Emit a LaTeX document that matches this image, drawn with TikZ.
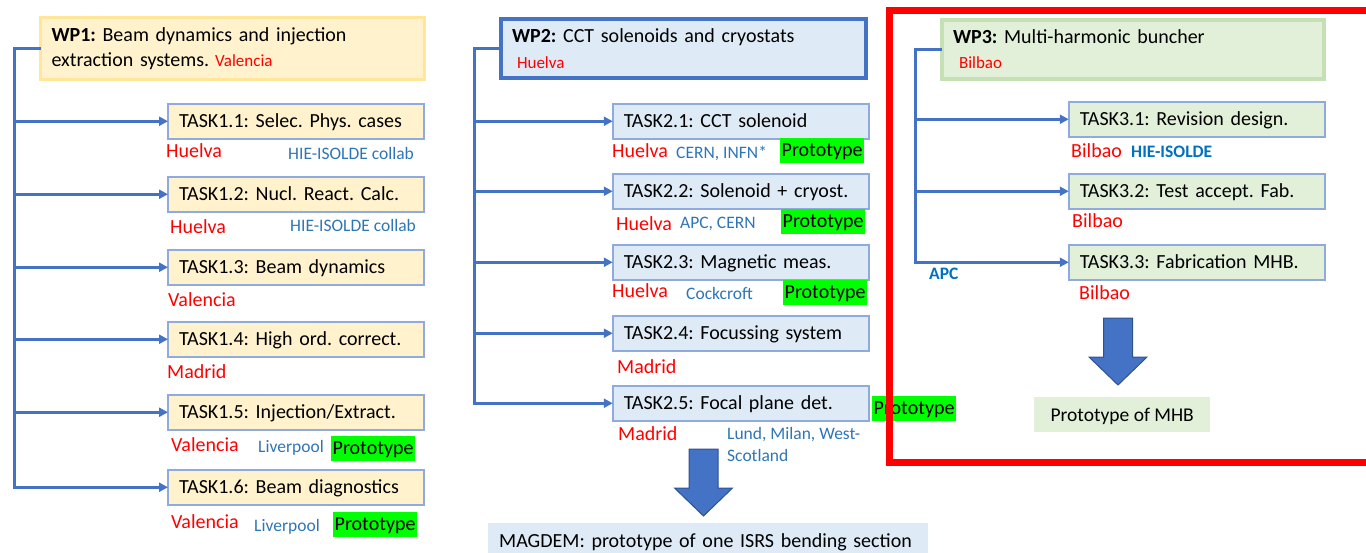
\documentclass[tikz,border=0pt]{standalone}
\usepackage{fontspec}
\setmainfont{Carlito}
\usepackage{xcolor}
\usetikzlibrary{calc,arrows.meta,positioning}
\frenchspacing

% colours of the work packages
\definecolor{wpyellow}{HTML}{FFF2CC}
\definecolor{wpyellowline}{HTML}{FFE699}
\definecolor{wpblue}{HTML}{DEEBF7}
\definecolor{wpgreen}{HTML}{E2F0D9}
\definecolor{wpgreenline}{HTML}{C5E0B4}
\definecolor{accent}{HTML}{4472C4}
\definecolor{arrowline}{HTML}{2F528F}
\definecolor{taskline}{HTML}{8FAADC}
\definecolor{partnerblue}{HTML}{2E75B6}
\definecolor{partnerbold}{HTML}{0070C0}
\definecolor{protogreen}{HTML}{00FF00}

\tikzset{
  bigarrow/.pic={
    \filldraw[fill=accent, draw=arrowline, line width=1pt]
      (-14.5,0) -- (14.5,0) -- (14.5,39) -- (29,39) -- (0,67) -- (-29,39) -- (-14.5,39) -- cycle;
  }
}

\begin{document}
\begin{tikzpicture}[x=1pt, y=-1pt,
    wpbox/.style={draw, anchor=north west, align=left, inner xsep=11pt, outer sep=0pt,
      font=\fontsize{20}{24.5}\selectfont},
    task/.style={draw=taskline, line width=1.5pt, anchor=north west, minimum height=35pt,
      inner xsep=11pt, text width=234pt, align=left, text height=13pt, text depth=0pt,
      outer sep=0pt, font=\fontsize{20}{24}\selectfont},
    site/.style={text=red, anchor=base west, inner sep=0pt, font=\fontsize{20}{24}\selectfont},
    partner/.style={text=partnerblue, anchor=base west, inner sep=0pt, font=\fontsize{17.5}{21}\selectfont},
    partnerb/.style={partner, text=partnerbold, font=\fontsize{17.5}{21}\selectfont\bfseries},
    proto/.style={fill=protogreen, anchor=north west, inner xsep=1.5pt, inner ysep=2.5pt,
      text height=16pt, text depth=4pt, font=\fontsize{20}{24}\selectfont},
    link/.style={draw=accent, line width=3pt},
    feed/.style={link, -{Triangle[length=9pt,width=9pt]}}]

  \useasboundingbox (0,0) rectangle (1366,552);

  % ---------------- WP1 ----------------
  \node[wpbox, draw=wpyellowline, fill=wpyellow, line width=3pt, minimum height=62pt, text width=362pt]
    (wp1) at (40.5,17.5) {\textbf{WP1:} Beam dynamics and injection\\
      extraction systems.\hspace{6pt}{\fontsize{17}{20}\selectfont\color{red}Valencia}};

  \node[task, fill=wpyellow] (t11) at (168,103.75) {TASK1.1: Selec. Phys. cases};
  \node[task, fill=wpyellow] (t12) at (168,176.75) {TASK1.2: Nucl. React. Calc.};
  \node[task, fill=wpyellow] (t13) at (168,249.75) {TASK1.3: Beam dynamics};
  \node[task, fill=wpyellow] (t14) at (168,321.75) {TASK1.4: High ord. correct.};
  \node[task, fill=wpyellow] (t15) at (168,394.75) {TASK1.5: Injection/Extract.};
  \node[task, fill=wpyellow] (t16) at (168,469.75) {TASK1.6: Beam diagnostics};

  % bus and arrows of WP1
  \coordinate[left=26.5pt of wp1.west] (bus1);
  \draw[feed] (wp1.west) -- (bus1) |- (t16.west);
  \foreach \t in {t11,t12,t13,t14,t15}
    \draw[feed] (bus1 |- \t.west) -- (\t.west);

  % sites and partners of WP1
  \node[site] (s11) at (166,157) {Huelva};
  \node[partner] (p11) at (288,159) {HIE-ISOLDE collab};
  \node[site] (s12) at (170,233) {Huelva};
  \node[partner] (p12) at (290,231) {HIE-ISOLDE collab};
  \node[site] (s13) at (168,306) {Valencia};
  \node[site] (s14) at (167,378) {Madrid};
  \node[site] (s15) at (171,451) {Valencia};
  \node[partner] (p15) at (258,452) {Liverpool};
  \node[proto] (r15) at (331,436) {Prototype};
  \node[site] (s16) at (171,528) {Valencia};
  \node[partner] (p16) at (254,531) {Liverpool};
  \node[proto] (r16) at (333,512) {Prototype};

  % ---------------- WP2 ----------------
  \node[wpbox, draw=accent, fill=wpblue, line width=4pt, minimum height=59pt, text width=343pt]
    (wp2) at (501,19) {\textbf{WP2:} CCT solenoids and cryostats\\[1.5pt]
      \hspace{5pt}{\fontsize{17}{20}\selectfont\color{red}Huelva}};

  \node[task, fill=wpblue] (t21) at (612.75,103.75) {TASK2.1: CCT solenoid};
  \node[task, fill=wpblue] (t22) at (612.75,173.75) {TASK2.2: Solenoid + cryost.};
  \node[task, fill=wpblue] (t23) at (612.75,244.75) {TASK2.3: Magnetic meas.};
  \node[task, fill=wpblue] (t24) at (612.75,315.75) {TASK2.4: Focussing system};
  \node[task, fill=wpblue] (t25) at (612.75,385.75) {TASK2.5: Focal plane det.};

  % bus and arrows of WP2
  \coordinate[left=27pt of wp2.west] (bus2);
  \draw[feed] (wp2.west) -- (bus2) |- (t25.west);
  \foreach \t in {t21,t22,t23,t24}
    \draw[feed] (bus2 |- \t.west) -- (\t.west);

  % sites and partners of WP2
  \node[site] (s21) at (612,157) {Huelva};
  \node[partner] (p21) at (676,158.5) {CERN, INFN*};
  \node[proto] (r21) at (780,138) {Prototype};
  \node[site] (s22) at (616,230) {Huelva};
  \node[partner] (p22) at (680,228) {APC, CERN};
  \node[proto] (r22) at (781,209) {Prototype};
  \node[site] (s23) at (612,297) {Huelva};
  \node[partner] (p23) at (686,299) {Cockcroft};
  \node[proto] (r23) at (783,280) {Prototype};
  \node[site] (s24) at (617,373) {Madrid};
  \node[site] (s25) at (618,440) {Madrid};
  \node[partner] (p25) at (727,439.5) {Lund, Milan, West-};
  \node[partner] (q25) at (727,461) {Scotland};
  \node[proto] (r25) at (872,396) {Prototype};

  % result of WP2
  \pic at (703.5,449) {bigarrow};
  \node[anchor=north west, fill=wpblue, minimum height=36pt, inner xsep=11pt, text width=418pt,
    align=left, text height=13pt, text depth=0pt, font=\fontsize{20}{24}\selectfont]
    (magdem) at (488,523) {MAGDEM: prototype of one ISRS bending section};

  % ---------------- WP3 ----------------
  \node[wpbox, draw=wpgreenline, fill=wpgreen, line width=4pt, minimum height=59pt, text width=360pt]
    (wp3) at (942,20) {\textbf{WP3:} Multi-harmonic buncher\\[0.5pt]
      \hspace{6pt}{\fontsize{17}{20}\selectfont\color{red}Bilbao}};

  \node[task, fill=wpgreen] (t31) at (1068.75,101.75) {TASK3.1: Revision design.};
  \node[task, fill=wpgreen] (t32) at (1068.75,173.75) {TASK3.2: Test accept. Fab.};
  \node[task, fill=wpgreen] (t33) at (1068.75,244.75) {TASK3.3: Fabrication MHB.};

  % bus and arrows of WP3
  \coordinate[left=27pt of wp3.west] (bus3);
  \draw[feed] (wp3.west) -- (bus3) |- (t33.west);
  \foreach \t in {t31,t32}
    \draw[feed] (bus3 |- \t.west) -- (\t.west);

  % sites and partners of WP3
  \node[site] (s31) at (1071,157) {Bilbao};
  \node[partnerb] (p31) at (1131,157) {HIE-ISOLDE};
  \node[site] (s32) at (1072,227) {Bilbao};
  \node[partnerb] (p33) at (929,279) {APC};
  \node[site] (s33) at (1079,299) {Bilbao};

  % result of WP3
  \pic at (1118,318) {bigarrow};
  \node[anchor=north west, fill=wpgreen, minimum width=176pt, minimum height=35pt,
    text height=13pt, text depth=0pt, font=\fontsize{19.5}{24}\selectfont]
    (mhb) at (1034,397) {Prototype of MHB};

  % red frame round WP3
  \draw[red, line width=7pt] (889.5,10) rectangle (1380,462);
\end{tikzpicture}
\end{document}
